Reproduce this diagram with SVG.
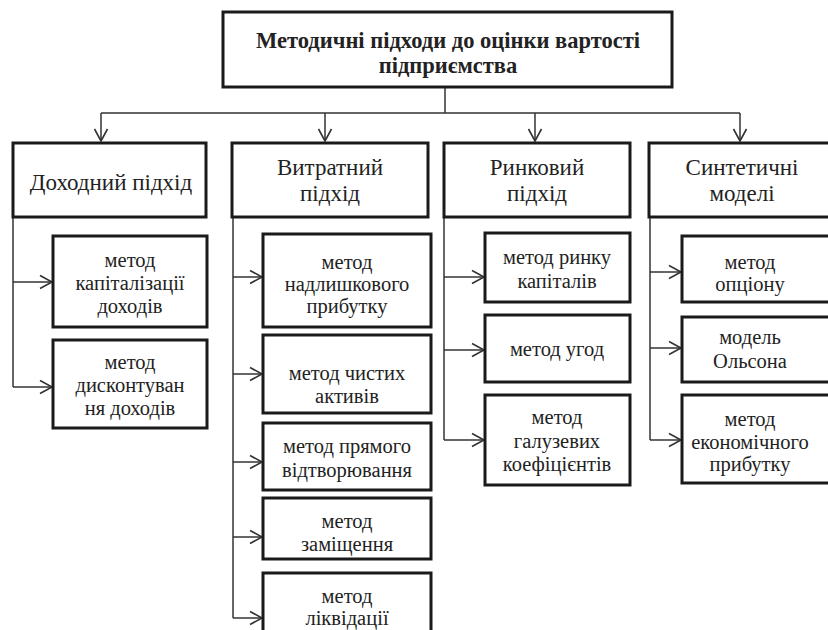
<svg xmlns="http://www.w3.org/2000/svg" width="828" height="630" viewBox="0 0 828 630">
<style>
.box{fill:#fff;stroke:#1a1a1a;stroke-width:3}
.ln{fill:none;stroke:#333;stroke-width:1.5}
text{font-family:"Liberation Serif","Times New Roman","DejaVu Serif",serif;fill:#222;text-anchor:middle}
.t{font-size:22.5px;font-weight:bold}
.l1{font-size:23px}
.s{font-size:20.5px}
</style>
<defs>
<marker id="ah" markerWidth="16" markerHeight="16" refX="13" refY="8" orient="auto" markerUnits="userSpaceOnUse">
<polyline points="1,1.5 13,8 1,14.5" fill="none" stroke="#333" stroke-width="1.6"/>
</marker>
</defs>
<rect width="828" height="630" fill="#fff"/>
<g id="connectors">
<path class="ln" d="M445,87V113M101,113H740"/>
<path class="ln" d="M101,113V141" marker-end="url(#ah)"/>
<path class="ln" d="M325,113V141" marker-end="url(#ah)"/>
<path class="ln" d="M535,113V141" marker-end="url(#ah)"/>
<path class="ln" d="M740,113V141" marker-end="url(#ah)"/>
<path class="ln" d="M13,217V387"/>
<path class="ln" d="M13,282H52" marker-end="url(#ah)"/>
<path class="ln" d="M13,387H52" marker-end="url(#ah)"/>
<path class="ln" d="M233,217V618"/>
<path class="ln" d="M233,277H262" marker-end="url(#ah)"/>
<path class="ln" d="M233,374H262" marker-end="url(#ah)"/>
<path class="ln" d="M233,462H262" marker-end="url(#ah)"/>
<path class="ln" d="M233,537H262" marker-end="url(#ah)"/>
<path class="ln" d="M233,618H262" marker-end="url(#ah)"/>
<path class="ln" d="M444,217V440"/>
<path class="ln" d="M444,277H484" marker-end="url(#ah)"/>
<path class="ln" d="M444,350H484" marker-end="url(#ah)"/>
<path class="ln" d="M444,440H484" marker-end="url(#ah)"/>
<path class="ln" d="M650,217V440"/>
<path class="ln" d="M650,272H681" marker-end="url(#ah)"/>
<path class="ln" d="M650,348H681" marker-end="url(#ah)"/>
<path class="ln" d="M650,440H681" marker-end="url(#ah)"/>
</g>
<g id="root">
<rect class="box" x="223" y="12" width="449" height="75"/>
<text class="t" x="448" y="48">Методичні підходи до оцінки вартості</text>
<text class="t" x="448" y="73">підприємства</text>
</g>
<g id="income">
<rect class="box" x="13" y="143" width="193" height="74"/>
<text class="l1" x="111" y="190">Доходний підхід</text>
</g>
<g id="cost">
<rect class="box" x="232" y="143" width="196" height="74"/>
<text class="l1" x="330" y="175">Витратний</text>
<text class="l1" x="330" y="201">підхід</text>
</g>
<g id="market">
<rect class="box" x="444" y="143" width="186" height="74"/>
<text class="l1" x="537" y="175">Ринковий</text>
<text class="l1" x="537" y="201">підхід</text>
</g>
<g id="synthetic">
<rect class="box" x="649" y="143" width="190" height="74"/>
<text class="l1" x="742" y="175">Синтетичні</text>
<text class="l1" x="742" y="201">моделі</text>
</g>
<g id="d1">
<rect class="box" x="53" y="236" width="154" height="91"/>
<text class="s" x="130" y="267">метод</text>
<text class="s" x="130" y="290">капіталізації</text>
<text class="s" x="130" y="313">доходів</text>
</g>
<g id="d2">
<rect class="box" x="53" y="340" width="154" height="88"/>
<text class="s" x="130" y="369">метод</text>
<text class="s" x="130" y="392">дисконтуван</text>
<text class="s" x="130" y="415">ня доходів</text>
</g>
<g id="v1">
<rect class="box" x="263" y="234" width="168" height="93"/>
<text class="s" x="347" y="269">метод</text>
<text class="s" x="347" y="291">надлишкового</text>
<text class="s" x="347" y="313">прибутку</text>
</g>
<g id="v2">
<rect class="box" x="263" y="335" width="168" height="78"/>
<text class="s" x="347" y="380">метод чистих</text>
<text class="s" x="347" y="403">активів</text>
</g>
<g id="v3">
<rect class="box" x="263" y="423" width="168" height="67"/>
<text class="s" x="347" y="453">метод прямого</text>
<text class="s" x="347" y="477">відтворювання</text>
</g>
<g id="v4">
<rect class="box" x="263" y="498" width="168" height="61"/>
<text class="s" x="347" y="528">метод</text>
<text class="s" x="347" y="551">заміщення</text>
</g>
<g id="v5">
<rect class="box" x="263" y="573" width="168" height="70"/>
<text class="s" x="347" y="603">метод</text>
<text class="s" x="347" y="625">ліквідації</text>
</g>
<g id="r1">
<rect class="box" x="485" y="233" width="145" height="69"/>
<text class="s" x="557" y="264">метод ринку</text>
<text class="s" x="557" y="288">капіталів</text>
</g>
<g id="r2">
<rect class="box" x="485" y="315" width="145" height="67"/>
<text class="s" x="557" y="356">метод угод</text>
</g>
<g id="r3">
<rect class="box" x="485" y="395" width="145" height="90"/>
<text class="s" x="557" y="424">метод</text>
<text class="s" x="557" y="448">галузевих</text>
<text class="s" x="557" y="471">коефіцієнтів</text>
</g>
<g id="s1">
<rect class="box" x="682" y="236" width="155" height="66"/>
<text class="s" x="750" y="269">метод</text>
<text class="s" x="750" y="291">опціону</text>
</g>
<g id="s2">
<rect class="box" x="682" y="317" width="155" height="65"/>
<text class="s" x="750" y="344">модель</text>
<text class="s" x="750" y="368">Ольсона</text>
</g>
<g id="s3">
<rect class="box" x="682" y="395" width="155" height="88"/>
<text class="s" x="750" y="426">метод</text>
<text class="s" x="750" y="449">економічного</text>
<text class="s" x="750" y="471">прибутку</text>
</g>
</svg>
